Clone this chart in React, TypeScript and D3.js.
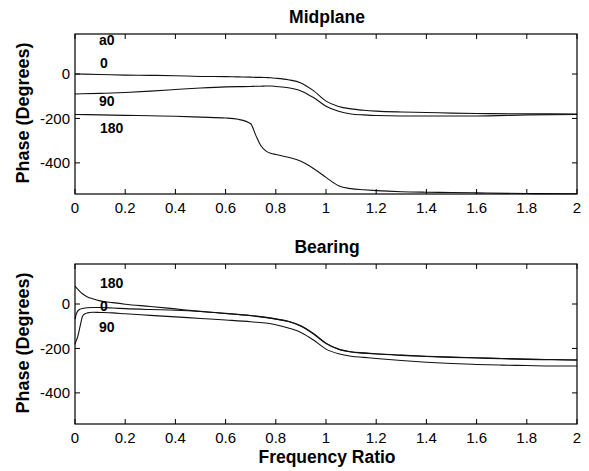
import React from "react";
import * as d3 from "d3";

// frequency grids (ratio)
const midFreq = [0, 0.1, 0.2, 0.3, 0.4, 0.5, 0.6, 0.65, 0.7, 0.72, 0.74, 0.76, 0.78, 0.8, 0.85, 0.9, 0.95, 1.0, 1.05, 1.1, 1.15, 1.2, 1.3, 1.4, 1.5, 1.6, 1.8, 2.0];
const bearFreq = [0, 0.005, 0.01, 0.02, 0.03, 0.04, 0.05, 0.07, 0.1, 0.15, 0.2, 0.3, 0.4, 0.5, 0.6, 0.7, 0.8, 0.85, 0.9, 0.95, 1.0, 1.05, 1.1, 1.15, 1.2, 1.3, 1.4, 1.5, 1.6, 1.7, 1.8, 1.9, 2.0];

// Midplane phase (deg) for a0 = 0, 90, 180
const mid0 = [0, -2, -5, -6, -8, -11, -12, -13, -14, -15, -15, -16, -17, -19, -26, -40, -75, -122, -146, -157, -163, -167, -171, -173, -176, -178, -179, -180];
const mid90 = [-90, -87, -83, -77, -70, -63, -58, -57, -56, -55, -55, -54, -54, -56, -62, -76, -106, -145, -168, -180, -184, -187, -189, -189, -189, -189, -184, -182];
const mid180 = [-182, -184, -186, -188, -190, -194, -198, -204, -224, -275, -322, -346, -357, -362, -375, -393, -425, -465, -503, -516, -521, -525, -530, -532, -533, -535, -538, -539];

// Bearing phase (deg)
const bear180 = [80, 74, 68, 56, 46, 38, 32, 24, 14, 6, -1, -11, -22, -33, -42, -52, -67, -78, -98, -132, -176, -203, -215, -220, -224, -230, -235, -239, -242, -245, -248, -250, -251];
const bear0 = [-68, -45, -33, -24, -20, -18, -17, -16, -16, -18, -21, -25, -28, -34, -43, -53, -68, -79, -100, -135, -178, -204, -216, -221, -225, -231, -236, -240, -243, -246, -249, -251, -253];
const bear90 = [-182, -165, -150, -102, -55, -44, -40, -37, -38, -40, -44, -51, -58, -65, -72, -80, -93, -108, -128, -162, -203, -224, -235, -240, -245, -254, -262, -268, -272, -275, -277, -279, -279];

const xTicks = [0, 0.2, 0.4, 0.6, 0.8, 1, 1.2, 1.4, 1.6, 1.8, 2];
const yTicks = [-400, -200, 0];

const font = "'Liberation Sans', Arial, Helvetica, sans-serif";

type Label = { text: string; x: number; y: number };

const Panel = ({ top, title, freq, series, labels, showXLabel }: {
  top: number;
  title: string;
  freq: number[];
  series: number[][];
  labels: Label[];
  showXLabel: boolean;
}) => {
  const left = 75;
  const right = 577;
  const h = 160;
  const x = d3.scaleLinear().domain([0, 2]).range([left, right]);
  const y = d3.scaleLinear().domain([-540, 180]).range([top + h, top]);
  const line = d3
    .line<number>()
    .x((_, i) => x(freq[i]))
    .y((d) => y(d))
    .curve(d3.curveMonotoneX);
  const tick = 5;
  return (
    <g>
      <text x={(left + right) / 2 + 1} y={top - 11} textAnchor="middle" fontSize={17.5} fontWeight="bold" fontFamily={font}>
        {title}
      </text>
      {/* curves */}
      {series.map((s, i) => (
        <path key={i} d={line(s) || ""} fill="none" stroke="#111" strokeWidth={1.1} />
      ))}
      {/* curve labels */}
      {labels.map((l) => (
        <text key={l.text} x={l.x} y={l.y} fontSize={14} fontWeight="bold" fontFamily={font}>
          {l.text}
        </text>
      ))}
      {/* box */}
      <rect x={left} y={top} width={right - left} height={h} fill="none" stroke="#000" strokeWidth={1.2} />
      {xTicks.map((t) => (
        <g key={t}>
          <line x1={x(t)} x2={x(t)} y1={top + h} y2={top + h - tick} stroke="#000" />
          <line x1={x(t)} x2={x(t)} y1={top} y2={top + tick} stroke="#000" />
          <text x={x(t)} y={top + h + 19} textAnchor="middle" fontSize={15} fontFamily={font}>
            {t}
          </text>
        </g>
      ))}
      {yTicks.map((t) => (
        <g key={t}>
          <line x1={left} x2={left + tick} y1={y(t)} y2={y(t)} stroke="#000" />
          <line x1={right} x2={right - tick} y1={y(t)} y2={y(t)} stroke="#000" />
          <text x={left - 5} y={y(t)} dy="0.35em" textAnchor="end" fontSize={15} fontFamily={font}>
            {t}
          </text>
        </g>
      ))}
      <text
        transform={`translate(29,${top + h / 2 - 1}) rotate(-90)`}
        textAnchor="middle"
        fontSize={18}
        fontWeight="bold"
        fontFamily={font}
      >
        Phase (Degrees)
      </text>
      {showXLabel && (
        <text x={(left + right) / 2 + 1} y={top + h + 39} textAnchor="middle" fontSize={17.5} fontWeight="bold" fontFamily={font}>
          Frequency Ratio
        </text>
      )}
    </g>
  );
};

export default function App() {
  return (
    <svg width={589} height={471} style={{ position: "absolute", left: 0, top: 0, background: "#fff" }}>
      <rect width={589} height={471} fill="#fff" />
      <Panel
        top={34}
        title="Midplane"
        freq={midFreq}
        series={[mid0, mid90, mid180]}
        labels={[
          { text: "a0", x: 99, y: 45 },
          { text: "0", x: 100, y: 68 },
          { text: "90", x: 99, y: 106 },
          { text: "180", x: 100, y: 133 },
        ]}
        showXLabel={false}
      />
      <Panel
        top={264}
        title="Bearing"
        freq={bearFreq}
        series={[bear0, bear90, bear180]}
        labels={[
          { text: "180", x: 100, y: 288 },
          { text: "0", x: 100, y: 311 },
          { text: "90", x: 99, y: 332 },
        ]}
        showXLabel={true}
      />
    </svg>
  );
}
